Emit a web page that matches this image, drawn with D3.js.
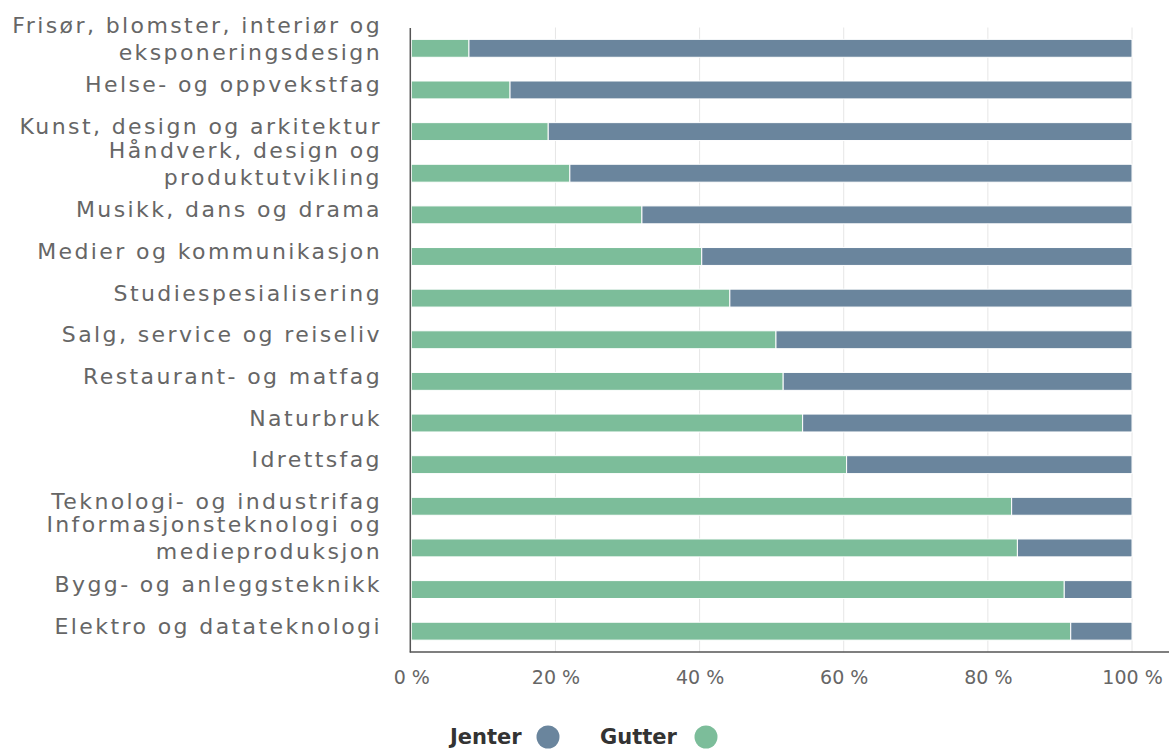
<!DOCTYPE html>
<html lang="no">
<head>
<meta charset="utf-8">
<script src="https://cdn.jsdelivr.net/npm/d3@7"></script>
<style>
  html, body { margin: 0; padding: 0; background: #ffffff; }
  svg { display: block; }
</style>
</head>
<body>
<svg id="chart" width="1169" height="749"></svg>
<script>
// Utdanningsprogram, andel gutter og jenter (prosent)
const categories = [
  "Frisør, blomster, interiør og\neksponeringsdesign",
  "Helse- og oppvekstfag",
  "Kunst, design og arkitektur",
  "Håndverk, design og\nproduktutvikling",
  "Musikk, dans og drama",
  "Medier og kommunikasjon",
  "Studiespesialisering",
  "Salg, service og reiseliv",
  "Restaurant- og matfag",
  "Naturbruk",
  "Idrettsfag",
  "Teknologi- og industrifag",
  "Informasjonsteknologi og\nmedieproduksjon",
  "Bygg- og anleggsteknikk",
  "Elektro og datateknologi"
];
const gutter = [8.0, 13.7, 19.0, 22.0, 32.0, 40.3, 44.2, 50.6, 51.6, 54.3, 60.4, 83.3, 84.1, 90.6, 91.5];
const jenter = [92.0, 86.3, 81.0, 78.0, 68.0, 59.7, 55.8, 49.4, 48.4, 45.7, 39.6, 16.7, 15.9, 9.4, 8.5];
const xTicks = [0, 20, 40, 60, 80, 100];
const seriesNames = ["Jenter", "Gutter"];
const seriesColors = { Jenter: "#6a859d", Gutter: "#7cbd9a" };

const svg = d3.select("#chart");
const W = 1169, H = 749;
const plot = { left: 411.3, right: 1132, top: 27.5, bottom: 652 };
const font = "'DejaVu Sans', Verdana, sans-serif";

const x = d3.scaleLinear().domain([0, 100]).range([plot.left, plot.right]);
const y = d3.scaleBand()
  .domain(categories)
  .range([plot.top, plot.bottom])
  .paddingInner(0.57)
  .paddingOuter(0.285);

// grid lines
svg.append("g")
  .selectAll("line")
  .data(xTicks.filter(t => t > 0))
  .join("line")
  .attr("x1", d => x(d)).attr("x2", d => x(d))
  .attr("y1", plot.top).attr("y2", plot.bottom)
  .attr("stroke", "#e6e6e6")
  .attr("stroke-width", 1);

// stacked bars: Gutter from 0, Jenter after
const rows = categories.map((c, i) => ({ cat: c, g: gutter[i], j: jenter[i] }));
const bars = svg.append("g");
bars.selectAll("rect.gutter")
  .data(rows)
  .join("rect")
  .attr("class", "gutter")
  .attr("x", x(0))
  .attr("y", d => y(d.cat))
  .attr("width", d => x(d.g) - x(0))
  .attr("height", y.bandwidth())
  .attr("fill", seriesColors.Gutter)
  .attr("stroke", "#ffffff")
  .attr("stroke-width", 1);
bars.selectAll("rect.jenter")
  .data(rows)
  .join("rect")
  .attr("class", "jenter")
  .attr("x", d => x(d.g))
  .attr("y", d => y(d.cat))
  .attr("width", d => x(d.g + d.j) - x(d.g))
  .attr("height", y.bandwidth())
  .attr("fill", seriesColors.Jenter)
  .attr("stroke", "#ffffff")
  .attr("stroke-width", 1);

// bottom axis
const xAxis = d3.axisBottom(x)
  .tickValues(xTicks)
  .tickSize(0)
  .tickPadding(0)
  .tickFormat(d => d + " %");
const gx = svg.append("g")
  .attr("transform", `translate(0,${plot.bottom})`)
  .call(xAxis);
gx.select(".domain").remove();
gx.selectAll("text")
  .attr("dy", null)
  .attr("y", 32)
  .attr("fill", "#666666")
  .style("font-family", font)
  .style("font-size", "19px");
svg.append("line")
  .attr("x1", plot.left - 1.5).attr("x2", W)
  .attr("y1", plot.bottom).attr("y2", plot.bottom)
  .attr("stroke", "#555555")
  .attr("stroke-width", 1.5);

// left axis line
const yAxis = d3.axisLeft(y).tickSize(0).tickFormat("");
const gy = svg.append("g")
  .attr("transform", `translate(${plot.left - 1.5},0)`)
  .call(yAxis);
gy.select(".domain").attr("stroke", "#555555").attr("stroke-width", 1.5);

// category labels, multi-line where the name is long
const lineH = 27;
const labels = svg.append("g")
  .style("font-family", font)
  .style("font-size", "22px")
  .style("letter-spacing", "2.4px")
  .attr("fill", "#666666")
  .attr("text-anchor", "end");
categories.forEach(c => {
  const lines = c.split("\n");
  const n = lines.length;
  const center = y(c) + y.bandwidth() / 2;
  const mid = center - 5 - 4.7 * (n - 1);
  const t = labels.append("text");
  lines.forEach((ln, i) => {
    t.append("tspan")
      .attr("x", 382)
      .attr("y", mid + (i - (n - 1) / 2) * lineH + 7.5)
      .text(ln);
  });
});

// legend
const legend = svg.append("g")
  .style("font-family", font)
  .style("font-size", "21px")
  .style("font-weight", "bold");
const legendItems = [
  { name: seriesNames[0], tx: 450, cx: 548 },
  { name: seriesNames[1], tx: 600, cx: 706 }
];
legendItems.forEach(it => {
  legend.append("text")
    .attr("x", it.tx).attr("y", 744)
    .attr("fill", "#333333")
    .text(it.name);
  legend.append("circle")
    .attr("cx", it.cx).attr("cy", 737)
    .attr("r", 11.5)
    .attr("fill", seriesColors[it.name]);
});
</script>
</body>
</html>
